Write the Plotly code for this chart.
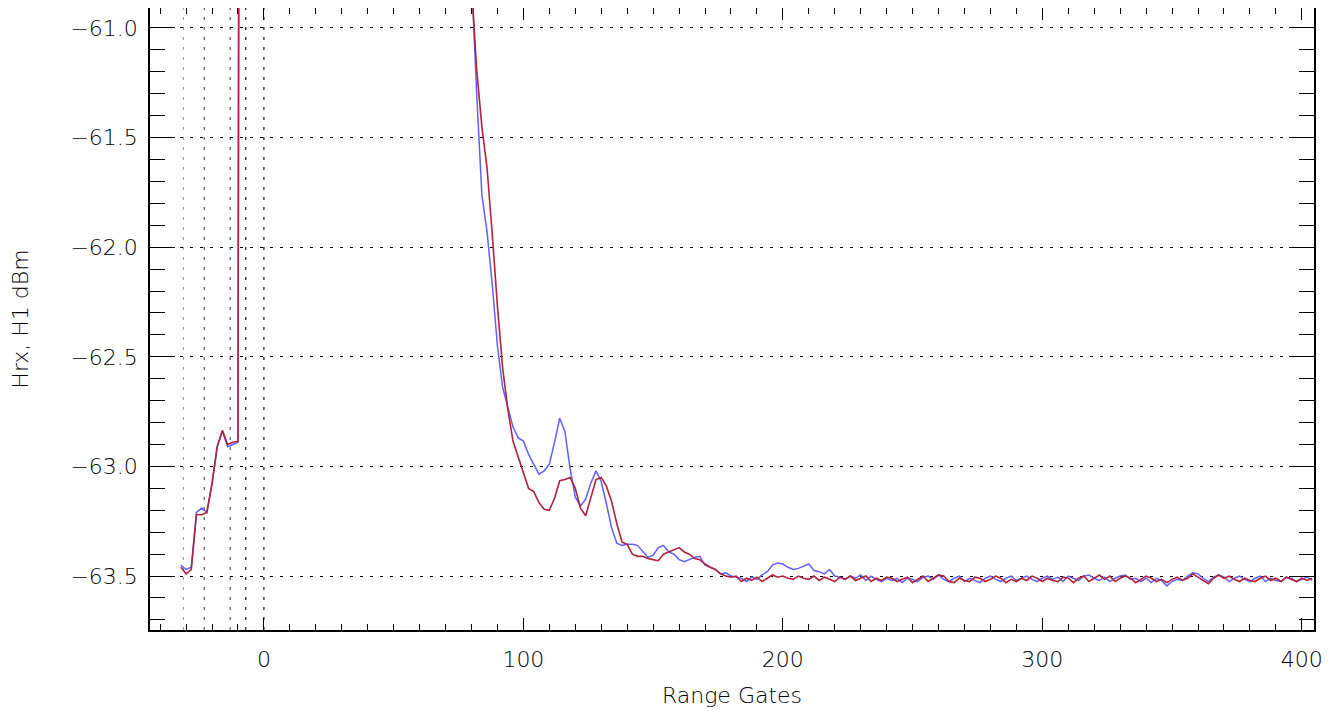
import plotly.graph_objects as go

# Range gates (step 2)
gates = list(range(-32, 406, 2))

# Blue trace values (dBm)
blue_vals = [
    # -32 .. -10
    -63.45, -63.47, -63.46, -63.21, -63.19, -63.21, -63.08, -62.91, -62.84, -62.91, -62.90, -62.89,
    # -8 .. 78 (saturated, above plotted range)
    -48.2, -44.6, -42.1, -40.5, -39.8, -39.6, -39.9, -40.3, -40.9, -41.2, -41.8, -42.4, -43.1, -43.9,
    -44.5, -45.2, -46.0, -46.8, -47.5, -48.3, -49.0, -49.8, -50.5, -51.3, -52.0, -52.8, -53.5, -54.1,
    -54.8, -55.4, -56.0, -56.6, -57.1, -57.6, -58.0, -58.4, -58.8, -59.2, -59.5, -59.8, -60.0, -60.2,
    -60.35, -60.5,
    # 80 .. 182
    -60.75, -61.30, -61.76, -61.93, -62.17, -62.45, -62.64, -62.73, -62.82, -62.87, -62.884,
    -62.945, -62.99, -63.035, -63.02, -62.99, -62.89, -62.78, -62.84, -63.01, -63.14,
    -63.18, -63.15, -63.075, -63.02, -63.07, -63.17, -63.28, -63.35, -63.36, -63.355,
    -63.355, -63.36, -63.39, -63.415, -63.405, -63.37, -63.36, -63.39, -63.40, -63.425,
    -63.435, -63.425, -63.415, -63.41, -63.45, -63.46, -63.47, -63.49, -63.485, -63.50,
    -63.505,
    # 184 .. 404
    -63.51, -63.525, -63.505, -63.515, -63.495, -63.48, -63.45, -63.44, -63.445, -63.46,
    -63.47, -63.465, -63.455, -63.445, -63.475, -63.48, -63.49, -63.47, -63.50, -63.505,
    -63.515, -63.50, -63.51, -63.495, -63.52, -63.50, -63.515, -63.525, -63.51, -63.52,
    -63.51, -63.53, -63.51, -63.515, -63.525, -63.505, -63.50, -63.515, -63.495, -63.515,
    -63.525, -63.51, -63.50, -63.525, -63.51, -63.52, -63.53, -63.51, -63.50, -63.515,
    -63.525, -63.51, -63.50, -63.52, -63.51, -63.50, -63.515, -63.525, -63.51, -63.50,
    -63.515, -63.505, -63.525, -63.50, -63.51, -63.52, -63.50, -63.495, -63.51, -63.52,
    -63.505, -63.525, -63.51, -63.50, -63.495, -63.515, -63.51, -63.525, -63.51, -63.53,
    -63.51, -63.52, -63.545, -63.525, -63.515, -63.52, -63.50, -63.485, -63.49, -63.51,
    -63.525, -63.505, -63.495, -63.505, -63.525, -63.51, -63.50, -63.515, -63.525, -63.51,
    -63.50, -63.525, -63.51, -63.52, -63.525, -63.505, -63.51, -63.525, -63.515, -63.505,
    -63.52,
]

# Red trace values (dBm)
red_vals = [
    # -32 .. -10
    -63.46, -63.49, -63.47, -63.22, -63.22, -63.21, -63.08, -62.91, -62.835, -62.90, -62.89, -62.885,
    # -8 .. 78 (saturated, above plotted range)
    -48.2, -44.6, -42.1, -40.5, -39.8, -39.6, -39.9, -40.3, -40.9, -41.2, -41.8, -42.4, -43.1, -43.9,
    -44.5, -45.2, -46.0, -46.8, -47.5, -48.3, -49.0, -49.8, -50.5, -51.3, -52.0, -52.8, -53.5, -54.1,
    -54.8, -55.4, -56.0, -56.6, -57.1, -57.6, -58.0, -58.4, -58.8, -59.2, -59.5, -59.8, -60.0, -60.2,
    -60.35, -60.5,
    # 80 .. 182
    -60.80, -61.19, -61.45, -61.64, -61.94, -62.27, -62.55, -62.74, -62.885, -62.955, -63.02,
    -63.10, -63.115, -63.165, -63.195, -63.20, -63.145, -63.065, -63.06, -63.05, -63.10,
    -63.19, -63.225, -63.14, -63.06, -63.05, -63.09, -63.16, -63.26, -63.345, -63.355,
    -63.40, -63.41, -63.41, -63.42, -63.425, -63.43, -63.40, -63.39, -63.38, -63.37,
    -63.39, -63.40, -63.42, -63.425, -63.445, -63.46, -63.47, -63.49, -63.50, -63.505,
    -63.50,
    # 184 .. 404
    -63.525, -63.51, -63.52, -63.505, -63.525, -63.51, -63.495, -63.505, -63.50, -63.51,
    -63.515, -63.50, -63.51, -63.515, -63.50, -63.52, -63.505, -63.515, -63.525, -63.505,
    -63.515, -63.50, -63.52, -63.51, -63.50, -63.525, -63.51, -63.52, -63.505, -63.51,
    -63.525, -63.515, -63.505, -63.53, -63.515, -63.50, -63.525, -63.51, -63.495, -63.50,
    -63.525, -63.53, -63.51, -63.52, -63.525, -63.505, -63.51, -63.525, -63.515, -63.50,
    -63.51, -63.53, -63.515, -63.525, -63.51, -63.52, -63.50, -63.51, -63.525, -63.51,
    -63.52, -63.525, -63.505, -63.51, -63.53, -63.51, -63.50, -63.525, -63.51, -63.495,
    -63.515, -63.50, -63.525, -63.51, -63.50, -63.51, -63.53, -63.515, -63.50, -63.51,
    -63.525, -63.515, -63.53, -63.515, -63.505, -63.52, -63.51, -63.49, -63.505, -63.52,
    -63.535, -63.51, -63.495, -63.51, -63.50, -63.515, -63.525, -63.51, -63.52, -63.525,
    -63.51, -63.50, -63.52, -63.51, -63.525, -63.505, -63.515, -63.525, -63.51, -63.52,
    -63.51,
]

# Reference gate markers (vertical dotted lines) and their colours
marker_gates = [-31, -23, -13, -7, 0]
marker_colors = ["#9a9ad8", "#555555", "#555555", "#111111", "#111111"]

y_ticks = [-61.0, -61.5, -62.0, -62.5, -63.0, -63.5]
x_ticks = [0, 100, 200, 300, 400]

assert len(gates) == len(blue_vals) == len(red_vals), (len(gates), len(blue_vals), len(red_vals))

FONT = "DejaVu Sans"
fig = go.Figure()
fig.add_trace(go.Scatter(x=gates, y=blue_vals, mode="lines", name="Hrx",
                         line=dict(color="#6060ff", width=1.5)))
fig.add_trace(go.Scatter(x=gates, y=red_vals, mode="lines", name="H1",
                         line=dict(color="#b0233a", width=1.6)))

for g, c in zip(marker_gates, marker_colors):
    fig.add_shape(type="line", x0=g, x1=g, xref="x", y0=0, y1=1, yref="paper",
                  line=dict(color=c, width=1.2, dash="3px,7px"), layer="below")

fig.update_layout(
    width=1344, height=719,
    margin=dict(l=142, r=38, t=0, b=97),
    paper_bgcolor="white", plot_bgcolor="white",
    showlegend=False,
    font=dict(family=FONT, color="#000000", size=22, weight=300),
)
fig.update_xaxes(
    range=[-43.9, 404.7], tickvals=x_ticks, ticktext=[str(v) for v in x_ticks],
    ticks="inside", ticklen=12, tickwidth=1.2, tickcolor="black",
    minor=dict(dtick=10, tick0=0, ticks="inside", ticklen=6, tickcolor="black", tickwidth=1, showgrid=False),
    showline=True, linecolor="black", linewidth=1.5, mirror="ticks",
    showgrid=False, zeroline=False, automargin=False,
    title=dict(text="Range Gates", font=dict(size=22, weight=300), standoff=16),
    tickfont=dict(size=22, weight=300), ticklabelstandoff=9,
)
fig.update_yaxes(
    range=[-63.746, -60.909], tickvals=y_ticks, ticktext=[f"{v:.1f}".replace("-", "\u2212") for v in y_ticks],
    ticks="inside", ticklen=25, tickwidth=1.2, tickcolor="black",
    minor=dict(dtick=0.1, tick0=-61.0, ticks="inside", ticklen=15, tickcolor="black", tickwidth=1, showgrid=False),
    showline=True, linecolor="black", linewidth=1.5, mirror="ticks",
    showgrid=True, gridcolor="black", gridwidth=1, griddash="3px,7px",
    zeroline=False, automargin=False,
    title=dict(text="Hrx, H1 dBm", font=dict(size=22, weight=300), standoff=36),
    tickfont=dict(size=22, weight=300), ticklabelstandoff=6,
)

fig.write_html("out.html")
